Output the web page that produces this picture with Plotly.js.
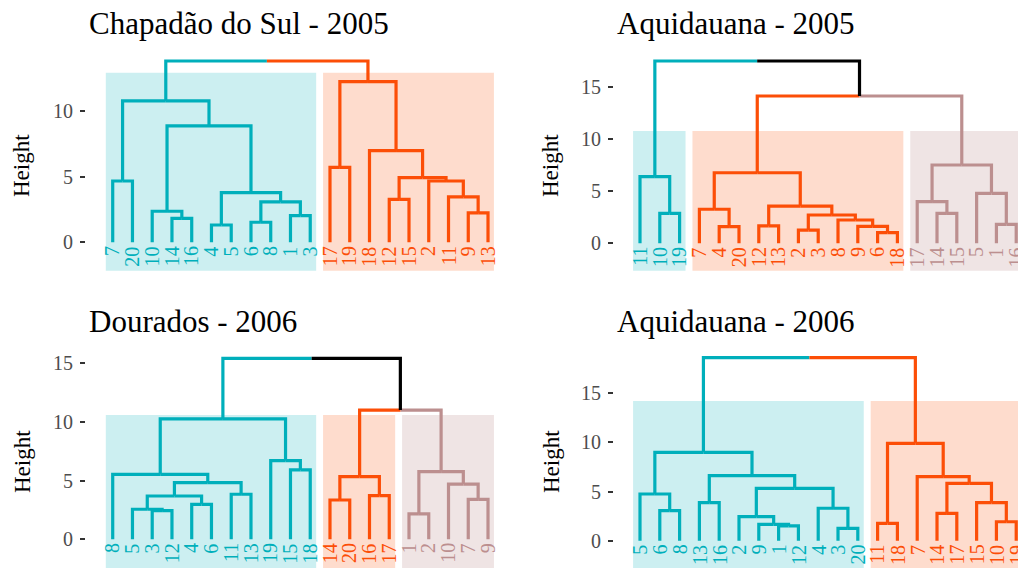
<!DOCTYPE html>
<html><head><meta charset="utf-8">
<script src="https://cdn.plot.ly/plotly-3.0.1.min.js"></script>
<style>html,body{margin:0;padding:0;background:#fff;}#chart{width:1018px;height:568px;}</style>
</head><body><div id="chart"></div>
<script>
// ---------------- DATA ----------------
const panelTitles = ['Chapadão do Sul - 2005', 'Aquidauana - 2005', 'Dourados - 2006', 'Aquidauana - 2006'];
const yTickVals = [0, 5, 10, 15];

// Panel 1: Chapadão do Sul - 2005
const labels1 = ['7','20','10','14','16','4','5','6','8','1','3','17','19','18','12','15','2','11','9','13'];
const clusterSizes1 = [11, 9];
const merges1 = [[-1,-2],[-4,-5],[-3,2],[-6,-7],[-8,-9],[-10,-11],[5,6],[4,7],[3,8],[1,9],
                 [-12,-13],[-15,-16],[-19,-20],[-18,13],[-17,14],[12,15],[-14,16],[11,17],[10,18]];
const heights1 = [4.68,1.83,2.37,1.32,1.53,2.03,3.08,3.79,8.88,10.79,
                  5.72,3.28,2.24,3.46,4.68,4.93,7.0,12.26,13.84];
const cutHeight1 = 12.95;

// Panel 2: Aquidauana - 2005
const labels2 = ['11','10','19','7','4','20','12','13','2','3','8','9','6','18','17','14','15','5','1','16'];
const clusterSizes2 = [3, 11, 6];
const merges2 = [[-13,-14],[-9,-10],[-5,-6],[-12,1],[-7,-8],[-19,-20],[-11,4],[2,7],[-2,-3],[-16,-17],
                 [-4,3],[5,8],[-15,10],[-18,6],[-1,9],[11,12],[13,14],[16,17],[15,18]];
const heights2 = [1.02,1.27,1.59,1.62,1.66,1.82,2.23,2.71,2.87,2.87,
                  3.26,3.57,3.99,4.79,6.38,6.76,7.5,14.11,17.46];
const cutHeight2 = 10.76;

// Panel 3: Dourados - 2006
const labels3 = ['8','5','3','12','4','6','11','13','19','15','18','14','20','16','17','1','2','10','7','9'];
const clusterSizes3 = [11, 4, 5];
const merges3 = [[-16,-17],[-3,-4],[-2,2],[-5,-6],[-12,-13],[-19,-20],[3,4],[-14,-15],[-7,-8],[-18,6],
                 [7,9],[5,8],[-1,11],[1,10],[-10,-11],[-9,15],[13,16],[12,14],[17,18]];
const heights3 = [2.16,2.44,2.56,2.98,3.35,3.41,3.69,3.72,3.84,4.71,
                  4.83,5.34,5.54,5.77,5.91,6.7,10.26,11.02,15.43];
const cutHeight3 = 10.6;

// Panel 4: Aquidauana - 2006
const labels4 = ['5','6','8','13','16','2','9','1','12','4','3','20','11','18','7','14','17','15','10','19'];
const clusterSizes4 = [12, 8];
const merges4 = [[-11,-12],[-8,-9],[-7,2],[-13,-14],[-19,-20],[-6,3],[-16,-17],[-2,-3],[-10,1],[-4,-5],
                 [-18,5],[-1,8],[6,9],[7,11],[-15,14],[10,13],[12,16],[4,15],[17,18]];
const heights4 = [1.26,1.5,1.67,1.77,1.93,2.44,2.79,3.05,3.3,3.87,
                  3.87,4.75,5.33,5.84,6.51,6.61,8.99,9.91,18.62];
const cutHeight4 = 14.21;

// ---------------- STYLE / LAYOUT ----------------
const FONT = 'Liberation Serif, "Times New Roman", Times, serif';
const lineColors = ['#00AFBB', '#FC4E07', '#BC8F8F'];
const fillColors = ['rgba(0,175,187,0.2)', 'rgba(252,78,7,0.2)', 'rgba(188,143,143,0.24)'];
const MIXED = '#000000';
const W = 1018, H = 568;

const panels = [
  {labels: labels1, sizes: clusterSizes1, merges: merges1, heights: heights1, cut: cutHeight1,
   xdom: [86, 505], xr: [-0.352, 20.86], ydom: [50, 275], yr: [-2.496, 14.679], rectBottom: -2.17,
   titlePos: [87, 24], ytitlePos: [22, 166]},
  {labels: labels2, sizes: clusterSizes2, merges: merges2, heights: heights2, cut: cutHeight2,
   xdom: [614, 1018], xr: [-0.313, 20.09], ydom: [50, 275], yr: [-3.036, 18.515], rectBottom: -2.62,
   titlePos: [615, 24], ytitlePos: [551, 166]},
  {labels: labels3, sizes: clusterSizes3, merges: merges3, heights: heights3, cut: cutHeight3,
   xdom: [86, 505], xr: [-0.352, 20.86], ydom: [340, 568], yr: [-2.447, 16.99], rectBottom: -2.6,
   titlePos: [87, 321], ytitlePos: [22, 462]},
  {labels: labels4, sizes: clusterSizes4, merges: merges4, heights: heights4, cut: cutHeight4,
   xdom: [614, 1018], xr: [-0.313, 20.09], ydom: [340, 568], yr: [-2.777, 20.417], rectBottom: -2.9,
   titlePos: [615, 321], ytitlePos: [551, 462]}
];

const traces = [], shapes = [], annotations = [];
const layout = {
  width: W, height: H, margin: {l: 0, r: 0, t: 0, b: 0},
  paper_bgcolor: '#ffffff', plot_bgcolor: 'rgba(0,0,0,0)', showlegend: false,
  hovermode: false
};

panels.forEach((p, pi) => {
  const k = pi + 1;
  const xa = 'x' + (k === 1 ? '' : k), ya = 'y' + (k === 1 ? '' : k);
  const xaName = 'xaxis' + (k === 1 ? '' : k), yaName = 'yaxis' + (k === 1 ? '' : k);

  // cluster membership of each leaf position
  const leafCluster = [];
  p.sizes.forEach((s, ci) => { for (let i = 0; i < s; i++) leafCluster.push(ci); });

  // node geometry
  const nodeX = [], nodeH = [], nodeCl = [];
  function info(ref) {
    if (ref < 0) { const i = -ref; return {x: i, h: 0, cl: leafCluster[i - 1]}; }
    return {x: nodeX[ref - 1], h: nodeH[ref - 1], cl: nodeCl[ref - 1]};
  }
  const segs = {};
  function add(color, xs, ys) {
    if (!segs[color]) segs[color] = {x: [], y: []};
    segs[color].x.push(...xs, null); segs[color].y.push(...ys, null);
  }
  p.merges.forEach((m, mi) => {
    const a = info(m[0]), b = info(m[1]);
    const x = (a.x + b.x) / 2, h = p.heights[mi];
    nodeX[mi] = x; nodeH[mi] = h;
    nodeCl[mi] = (a.cl !== -1 && a.cl === b.cl) ? a.cl : -1;
    [a, b].forEach(c => {
      const col = c.cl === -1 ? MIXED : lineColors[c.cl];
      add(col, [x, c.x, c.x], [h, h, c.h]);
    });
  });
  Object.keys(segs).forEach(col => {
    traces.push({type: 'scatter', mode: 'lines', x: segs[col].x, y: segs[col].y,
      xaxis: xa, yaxis: ya, line: {color: col, width: 3.2}, hoverinfo: 'skip'});
  });

  // cluster rectangles
  let start = 1;
  p.sizes.forEach((s, ci) => {
    shapes.push({type: 'rect', xref: xa, yref: ya, x0: start - 0.35, x1: start + s - 1 + 0.3,
      y0: p.rectBottom, y1: p.cut, fillcolor: fillColors[ci], line: {width: 0}, layer: 'below'});
    start += s;
  });

  // leaf labels
  p.labels.forEach((lab, i) => {
    annotations.push({xref: xa, yref: ya, x: i + 1, y: 0, text: lab, showarrow: false,
      textangle: -90, xanchor: 'center', yanchor: 'top', yshift: -2,
      font: {family: FONT, size: 20, color: lineColors[leafCluster[i]]}});
  });

  // panel title and y-axis title
  annotations.push({xref: 'paper', yref: 'paper', x: p.titlePos[0] / W, y: 1 - p.titlePos[1] / H,
    xanchor: 'left', yanchor: 'middle', text: panelTitles[pi], showarrow: false,
    font: {family: FONT, size: 31, color: '#000000'}});
  annotations.push({xref: 'paper', yref: 'paper', x: p.ytitlePos[0] / W, y: 1 - p.ytitlePos[1] / H,
    xanchor: 'center', yanchor: 'middle', text: 'Height', showarrow: false, textangle: -90,
    font: {family: FONT, size: 23, color: '#000000'}});

  layout[xaName] = {domain: [p.xdom[0] / W, p.xdom[1] / W], range: p.xr, visible: false,
    anchor: ya, fixedrange: true};
  layout[yaName] = {domain: [1 - p.ydom[1] / H, 1 - p.ydom[0] / H], range: p.yr, anchor: xa,
    showgrid: false, zeroline: false, showline: false, ticks: 'outside', ticklen: 5, tickwidth: 2,
    tickcolor: '#333333', tickvals: yTickVals, ticklabelstandoff: 3,
    tickfont: {family: FONT, size: 20, color: '#4D4D4D'}, fixedrange: true};
});

layout.shapes = shapes;
layout.annotations = annotations;
Plotly.newPlot('chart', traces, layout, {displayModeBar: false, staticPlot: true});
</script>
</body></html>
